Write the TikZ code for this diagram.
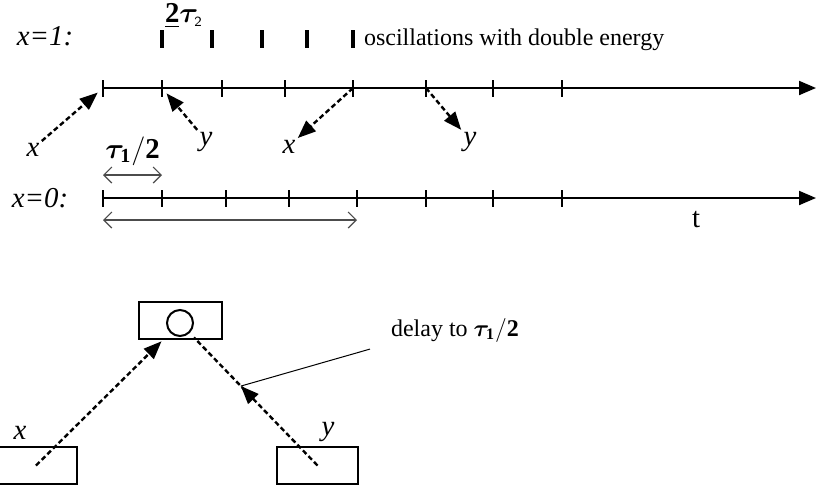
\documentclass[tikz,border=0pt]{standalone}
\usepackage{amsmath,bm}
\usepackage{fontspec}
\setmainfont{Liberation Serif}
\usetikzlibrary{arrows.meta,calc,decorations.markings}

\begin{document}
\begin{tikzpicture}[x=0.5pt, y=-0.5pt,
    axis/.style={line width=1pt, -{Triangle[length=8.5pt,width=7pt]}},
    tickmark/.style={line width=1pt},
    osc/.style={line width=1.6pt},
    sig/.style={line width=1.2pt, dash pattern=on 2.5pt off 1.5pt, -{Triangle[length=9pt,width=7pt]}},
    sigmid/.style={line width=1.2pt, dash pattern=on 2.5pt off 1.5pt, postaction={decorate},
        decoration={markings, mark=at position 0.6 with {\arrow{Triangle[length=9pt,width=7pt]}; \coordinate (dm);}}},
    span/.style={gray!60!black, line width=0.6pt, {Straight Barb[length=4pt,width=8pt]}-{Straight Barb[length=4pt,width=8pt]}},
    unitbox/.style={draw, line width=1pt, minimum height=18.5pt, inner sep=0pt},
    lbl/.style={font=\Large\itshape, inner sep=1pt},
    txt/.style={font=\fontsize{12}{14}\selectfont}]
    \useasboundingbox (0,0) rectangle (817,488);

    % Oscillations for x=1
    \node[lbl] (row1) at (45,36) {x=1:};
    \foreach \x [count=\i] in {162,212,262,307,353} {
        \draw[osc] (\x,30) -- (\x,48);
        \coordinate (o\i) at (\x,39);
    }
    \node[font=\Large] (per2) at (184,16) {$\underline{\mathbf{2}}\bm{\tau}_{\scriptscriptstyle\mathsf{2}}$};
    \node[txt, anchor=west] (osctxt) at (357,40) {oscillations with double energy};

    % Upper time line
    \foreach \x [count=\i from 0] in {103,162,222,285,353,426,493,562} {
        \draw[tickmark] (\x,80) -- (\x,97);
        \coordinate (a\i) at (\x,88);
    }
    \coordinate (aend) at (816,88);
    \draw[axis] (a0) -- (aend);

    % Inputs and outputs
    \node[lbl] (xa) at (33,150) {x};
    \node[lbl] (ya) at (206,142) {y};
    \node[lbl] (xb) at (289,147) {x};
    \node[lbl] (yb) at (470,142) {y};
    \draw[sig, shorten >=3.5pt] (xa.north east) -- (a0);
    \draw[sig, shorten >=3.5pt] (ya.north west) -- (a1);
    \draw[sig] (a4) -- (xb.north east);
    \draw[sig] (a5) -- (yb.north west);

    % Lower time line, x=0
    \node[lbl] (row0) at (40,198) {x=0:};
    \foreach \x [count=\i from 0] in {103,162,226,289,357,426,493,562} {
        \draw[tickmark] (\x,190) -- (\x,207);
        \coordinate (b\i) at (\x,198);
    }
    \coordinate (bend) at (816,198);
    \draw[axis] (b0) -- (bend);
    \node[font=\Large] (tlbl) at (696,220) {t};

    % Spans
    \draw[span] ([yshift=11.5pt]b0) -- ([yshift=11.5pt]b1)
        node[midway, above=1pt, text=black, font=\Large] (half) {$\bm{\tau}_{\mathbf{1}}/\mathbf{2}$};
    \draw[span] ([yshift=-11pt]b0) -- ([yshift=-11pt]b4);

    % Gate
    \node[unitbox, minimum width=41.5pt] (op) at (180.5,320.5) {};
    \node[circle, draw, line width=1pt, minimum size=13pt, inner sep=0pt] (ring) at (180,323) {};
    \node[unitbox, minimum width=41pt] (bx) at (36,465.5) {};
    \node[unitbox, minimum width=40.5pt] (by) at (317.5,465.5) {};
    \node[lbl] (xc) at (20,433) {x};
    \node[lbl] (yc) at (328,432) {y};
    \draw[sig, shorten >=6pt] (bx.center) -- (ring);
    \draw[sigmid, shorten >=3pt] (by.center) -- (ring);

    % Delay note
    \node[txt, anchor=west] (dl) at (384,330) {delay to $\bm{\tau}_{\mathbf{1}}/\mathbf{2}$};
    \draw[line width=0.5pt] (dm) -- ([xshift=-7pt]dl.south west);
\end{tikzpicture}
\end{document}
